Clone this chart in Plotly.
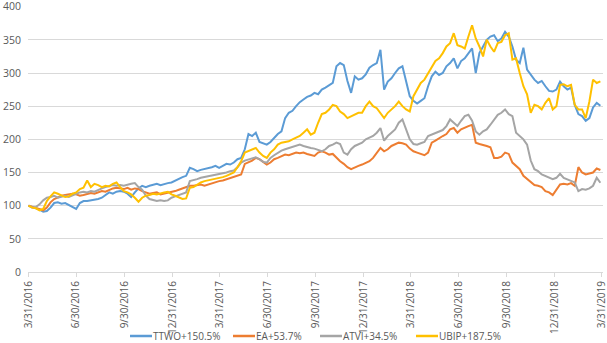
import pandas as pd
import plotly.graph_objects as go

# Weekly observation dates (index, start = 100)
dates = pd.date_range("2016-03-31", periods=157, freq="7D")

series_names = ["TTWO+150.5%", "EA+53.7%", "ATVI+34.5%", "UBIP+187.5%"]

ttwo = [
    100, 98, 97, 94, 91, 92, 97, 104, 105, 103, 104, 101, 99,
    95, 104, 107, 107, 108, 108, 110, 112, 116, 120, 118, 121, 122,
    121, 118, 113, 120, 126, 130, 128, 130, 132, 133, 131, 133, 134,
    135, 138, 140, 143, 145, 157, 155, 152, 154, 155, 156, 158, 160,
    157, 160, 163, 162, 165, 170, 172, 185, 208, 205, 210, 196, 194,
    192, 196, 202, 208, 212, 232, 240, 243, 250, 256, 260, 264, 266,
    270, 268, 275, 278, 282, 285, 310, 315, 312, 288, 270, 295, 290,
    292, 298, 308, 312, 315, 335, 275, 287, 292, 300, 307, 310, 287,
    265, 258, 254, 258, 262, 280, 295, 302, 297, 300, 310, 315, 322,
    307, 318, 322, 330, 337, 300, 330, 340, 350, 355, 357, 348, 352,
    362, 355, 340, 320, 315, 338, 305, 297, 290, 285, 288, 280, 273,
    272, 275, 287, 280, 275, 278, 252, 238, 235, 228, 232, 248, 255, 250.5,
]

ea = [
    100, 98, 97, 95, 93, 97, 105, 110, 113, 115, 116, 117, 118,
    117, 115, 116, 118, 119, 118, 120, 122, 121, 124, 126, 127, 126,
    125, 127, 124, 126, 125, 122, 120, 118, 119, 120, 117, 118, 120,
    121, 122, 124, 126, 128, 130, 130, 131, 132, 130, 132, 133, 135,
    137, 138, 140, 142, 143, 145, 147, 163, 165, 168, 172, 170, 166,
    162, 165, 170, 172, 174, 177, 176, 178, 180, 179, 180, 178, 177,
    175, 180, 182, 180, 177, 178, 172, 167, 163, 158, 155, 158, 160,
    162, 165, 167, 172, 180, 187, 182, 185, 190, 193, 195, 194, 192,
    186, 182, 180, 178, 176, 180, 195, 198, 202, 205, 208, 215, 217,
    210, 215, 218, 220, 222, 195, 193, 192, 190, 188, 172, 172, 174,
    180, 178, 165, 160, 155, 145, 140, 135, 131, 130, 128, 122, 120,
    116, 125, 132, 133, 132, 134, 130, 158, 150, 147, 148, 150, 156, 153.7,
]

atvi = [
    100, 97, 98, 102, 108, 112, 113, 115, 112, 114, 115, 113, 116,
    118, 120, 121, 120, 122, 121, 124, 126, 128, 130, 131, 130, 131,
    130, 132, 133, 134, 128, 124, 115, 110, 108, 107, 108, 107, 108,
    112, 114, 116, 118, 120, 137, 138, 140, 142, 143, 145, 146, 147,
    147, 148, 150, 152, 153, 158, 165, 168, 170, 172, 173, 170, 166,
    165, 172, 176, 180, 183, 185, 187, 189, 191, 192, 190, 188, 187,
    186, 184, 182, 185, 190, 192, 195, 193, 180, 177, 185, 190, 192,
    195, 200, 202, 205, 210, 217, 198, 205, 210, 215, 225, 230, 215,
    200, 193, 192, 194, 196, 205, 207, 210, 212, 214, 220, 230, 225,
    220, 228, 235, 237, 228, 212, 207, 212, 215, 222, 230, 237, 240,
    245, 238, 235, 210, 205, 200, 192, 168, 155, 152, 147, 145, 143,
    140, 142, 148, 142, 140, 137, 135, 122, 125, 124, 126, 130, 142, 134.5,
]

ubip = [
    100, 97, 96, 93, 95, 107, 114, 120, 118, 115, 113, 114, 118,
    120, 125, 127, 138, 128, 133, 131, 128, 130, 129, 133, 135, 128,
    122, 120, 117, 112, 106, 112, 115, 116, 118, 117, 119, 120, 121,
    117, 115, 112, 110, 111, 127, 128, 132, 135, 137, 138, 139, 140,
    141, 143, 145, 147, 150, 158, 167, 180, 182, 185, 187, 180, 175,
    172, 180, 185, 192, 195, 196, 197, 200, 202, 205, 210, 215, 207,
    210, 225, 238, 240, 245, 252, 250, 242, 238, 232, 235, 237, 240,
    240, 250, 257, 250, 247, 240, 232, 240, 245, 250, 257, 250, 245,
    242, 265, 275, 285, 290, 300, 310, 318, 322, 330, 340, 345, 360,
    342, 340, 337, 355, 372, 352, 340, 325, 350, 340, 332, 345, 347,
    357, 360, 320, 322, 300, 280, 268, 240, 252, 250, 245, 255, 262,
    245, 250, 282, 283, 280, 282, 252, 245, 245, 232, 257, 290, 285, 287.5,
]

tick_dates = ["2016-03-31", "2016-06-30", "2016-09-30", "2016-12-31",
              "2017-03-31", "2017-06-30", "2017-09-30", "2017-12-31",
              "2018-03-31", "2018-06-30", "2018-09-30", "2018-12-31",
              "2019-03-31"]
tick_labels = ["3/31/2016", "6/30/2016", "9/30/2016", "12/31/2016",
               "3/31/2017", "6/30/2017", "9/30/2017", "12/31/2017",
               "3/31/2018", "6/30/2018", "9/30/2018", "12/31/2018",
               "3/31/2019"]
y_ticks = [0, 50, 100, 150, 200, 250, 300, 350, 400]

colors = ["#5B9BD5", "#ED7D31", "#A5A5A5", "#FFC000"]
font_col = "#595959"

W, H = 607, 343
ML, MR, MT, MB = 28, 4, 6, 71
plot_w = W - ML - MR
plot_h = H - MT - MB

fig = go.Figure()
for name, vals, col in zip(series_names, [ttwo, ea, atvi, ubip], colors):
    fig.add_trace(go.Scatter(x=dates, y=vals, mode="lines", name=name,
                             line=dict(color=col, width=2), showlegend=False))

# Legend drawn below the axis (line swatch + label), placed in pixel terms
legend_line_x = [130, 233, 320, 416]   # left pixel of each swatch
swatch_len = 22
legend_y_px = 336


def px_x(p):
    return (p - ML) / plot_w


def px_y(p):
    return (H - MB - p) / plot_h


for name, col, lx in zip(series_names, colors, legend_line_x):
    fig.add_shape(type="line", xref="paper", yref="paper",
                  x0=px_x(lx), x1=px_x(lx + swatch_len),
                  y0=px_y(legend_y_px), y1=px_y(legend_y_px),
                  line=dict(color=col, width=2.5))
    fig.add_annotation(text=name, xref="paper", yref="paper",
                       x=px_x(lx + swatch_len - 1), y=px_y(legend_y_px),
                       xanchor="left", yanchor="middle", showarrow=False,
                       font=dict(size=10, color=font_col))

fig.update_layout(
    width=W, height=H,
    margin=dict(l=ML, r=MR, t=MT, b=MB),
    paper_bgcolor="white", plot_bgcolor="white",
    font=dict(family="Open Sans", size=10, color=font_col),
    showlegend=False,
    xaxis=dict(range=["2016-03-30", "2019-04-02"], tickvals=tick_dates,
               ticktext=tick_labels, tickangle=-90, showgrid=False,
               showline=True, linecolor="#D9D9D9", linewidth=1,
               ticks="outside", ticklen=4, tickcolor="#D9D9D9",
               ticklabeloverflow="allow", automargin=False,
               tickfont=dict(size=10, color=font_col), zeroline=False),
    yaxis=dict(range=[0, 401], tickvals=y_ticks, showgrid=True,
               gridcolor="#D9D9D9", gridwidth=1, zeroline=False,
               showline=False, ticks="", ticklabeloverflow="allow",
               ticklabelstandoff=6, automargin=False,
               tickfont=dict(size=10.5, color=font_col)),
)

fig.write_html("out.html")
